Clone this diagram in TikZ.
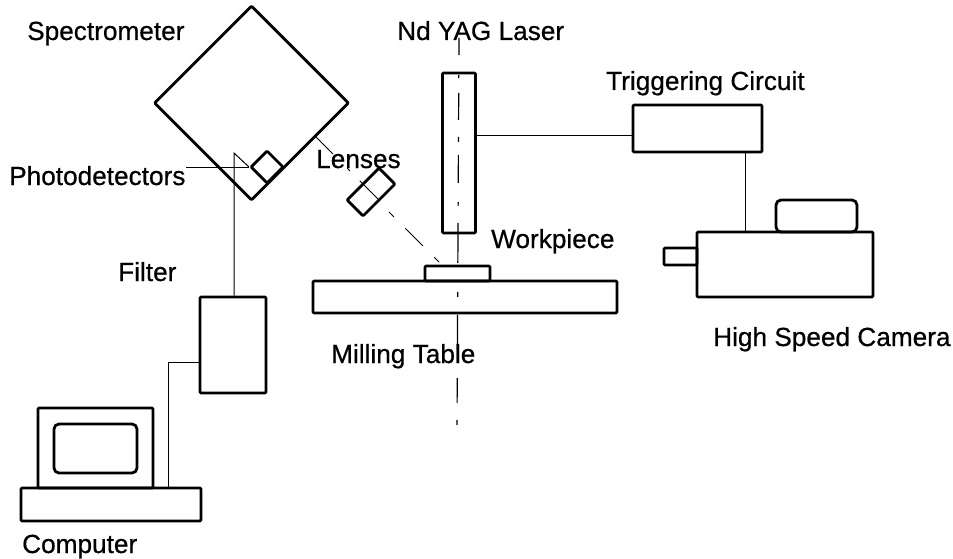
\documentclass[tikz,border=0pt]{standalone}
\usepackage{fontspec}
\newfontfamily\lblfont[FakeBold=0.6]{Liberation Sans}
\usetikzlibrary{calc}
\tikzset{
  boxln/.style={draw, line width=2.8pt, line join=round, rounded corners=1pt, inner sep=0pt},
  wireln/.style={line width=1pt},
  axisdash/.style={line width=1.2pt, dash pattern=on 17pt off 20pt on 3pt off 15pt on 27pt off 17pt on 5pt off 13pt on 28pt off 19pt on 4pt off 17pt on 40pt off 29pt on 5pt off 18pt on 35pt off 28pt on 25pt off 17pt on 5pt off 50pt},
  lbl/.style={font=\lblfont\fontsize{26.2}{26.2}\selectfont, inner sep=0pt, anchor=base west},
}
\newcommand{\pxbox}[5]{%
  \node[boxln, minimum width=#4pt, minimum height=#5pt, #1] (#2) at #3 {};
}
\begin{document}
\begin{tikzpicture}[x=1pt,y=-1pt]
  \useasboundingbox (0,0) rectangle (953,559);
  % spectrometer and what sits on it
  \pxbox{rotate=45}{spec}{(251.5,103)}{137}{137}
  \pxbox{rotate=45}{detect}{(267,167)}{22.6}{22.6}
  \pxbox{rotate=45}{lens}{(371,192)}{45}{22.6}
  \draw[wireln] (lens.north) -- (lens.south);
  % laser and table
  \pxbox{}{laser}{(459,153)}{33}{160}
  \pxbox{}{work}{(457.5,273.5)}{65}{15}
  \pxbox{}{table}{(465,297)}{304}{32}
  \coordinate (axtop) at (459,38);
  \coordinate (axbot) at (457,425);
  \draw[axisdash] (axtop) -- (axbot);
  % optical path to the lens
  \coordinate (optA) at (389,212);
  \coordinate (optB) at (439,262);
  \draw[wireln, dash pattern=on 7pt off 16pt on 25pt off 16pt on 7pt off 50pt] (optA) -- (optB);
  % trigger and camera
  \pxbox{}{trig}{(697.5,128.5)}{129}{47}
  \pxbox{}{cam}{(785,264.5)}{176}{65}
  \pxbox{rounded corners=5pt}{camtop}{(816.5,216)}{81}{32}
  \pxbox{}{camlens}{(680.5,256.5)}{33}{17}
  \coordinate (trigin) at (634,136);
  \draw[wireln] (laser.east |- trigin) -- (trig.west |- trigin);
  \coordinate (camin) at (745,200);
  \draw[wireln] (trig.south -| camin) -- (cam.north -| camin);
  % filter and computer
  \pxbox{}{filter}{(233,345)}{66}{96}
  \pxbox{}{screenbox}{(95.5,448)}{115}{80}
  \pxbox{rounded corners=5pt}{screen}{(95.5,448.5)}{83}{49}
  \pxbox{}{base}{(111,504.5)}{180}{33}
  \coordinate (bend) at (168,362);
  \draw[wireln] (filter.west |- bend) -- (bend) -- (base.north -| bend);
  \coordinate (filtertop) at (234,153);
  \draw[wireln] (detect.north west) -- (filtertop) -- (filter.north -| filtertop);
  \coordinate (detectend) at (186,167);
  \draw[wireln] (detectend) -- (detect.north west);
  \coordinate (lensend) at (316,137);
  \draw[wireln, dash pattern=on 24pt off 20pt on 4pt off 14pt on 5pt off 50pt] (lensend) -- (lens.north);
  % labels
  \node[lbl] (lspec) at (27,40) {Spectrometer};
  \node[lbl] (lyag) at (397,40) {Nd YAG Laser};
  \node[lbl] (ltrig) at (606,90) {Triggering Circuit};
  \node[lbl] (ldet) at (9,185) {Photodetectors};
  \node[lbl] (llens) at (316,168) {Lenses};
  \node[lbl] (lwork) at (491,248) {Workpiece};
  \node[lbl] (lfilter) at (118,281) {Filter};
  \node[lbl] (ltable) at (331,363) {Milling Table};
  \node[lbl] (lcam) at (713,346) {High Speed Camera};
  \node[lbl] (lcomp) at (22,553) {Computer};
\end{tikzpicture}
\end{document}
